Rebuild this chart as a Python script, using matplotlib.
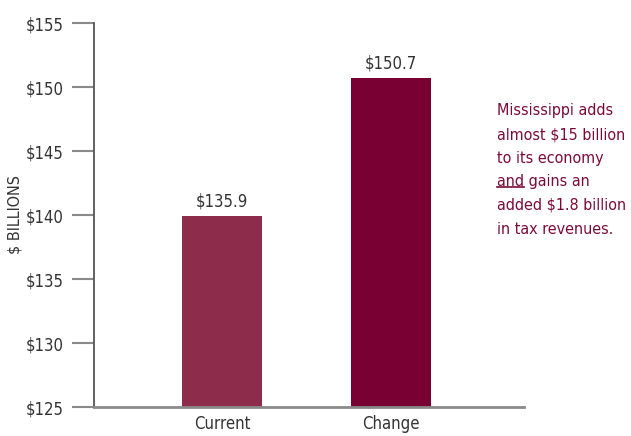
import matplotlib
matplotlib.use("Agg")
import matplotlib.pyplot as plt
from matplotlib.lines import Line2D

categories = ["Current", "Change"]
bar_heights = [139.9, 150.7]
bar_labels = ["$135.9", "$150.7"]
bar_colors = ["#8e2d4b", "#780032"]
yticks = [125, 130, 135, 140, 145, 150, 155]
ytick_labels = ["$125", "$130", "$135", "$140", "$145", "$150", "$155"]
note_lines = ["Mississippi adds", "almost $15 billion", "to its economy",
              "and gains an", "added $1.8 billion", "in tax revenues."]

FONT = dict(family="DejaVu Sans", stretch="condensed")
plt.rcParams['font.family'] = 'DejaVu Sans'

fig = plt.figure(figsize=(6.31, 4.36), dpi=100)
ax = fig.add_axes([94/631, 1-407/436, 430/631, 384/436])

x = list(range(len(categories)))
ax.bar(x, [h - 125 for h in bar_heights], bottom=125, width=0.475,
       color=bar_colors, zorder=2)
for xi, h, lab in zip(x, bar_heights, bar_labels):
    ax.text(xi, h + 0.45, lab, ha="center", va="bottom", fontsize=12,
            color="#333333", **FONT)

ax.set_xlim(-0.76, 1.792)
ax.set_ylim(125, 155)
ax.set_yticks(yticks)
ax.set_yticklabels(ytick_labels, fontsize=12, color="#333333", **FONT)
ax.set_xticks(x)
ax.set_xticklabels(categories, fontsize=12, color="#333333", **FONT)
ax.tick_params(axis="y", length=16, width=1.5, color="#8a8a8a", pad=6)
ax.tick_params(axis="x", length=0, pad=6)
for s in ["top", "right"]:
    ax.spines[s].set_visible(False)
ax.spines["left"].set_color("#555555")
ax.spines["left"].set_linewidth(1.3)
ax.spines["bottom"].set_color("#8a8a8a")
ax.spines["bottom"].set_linewidth(2)

fig.text(15/631, 1-215/436, "$ BILLIONS", rotation=90, ha="center", va="center",
         fontsize=11.5, color="#333333", **FONT)

note_color = "#7a0a3a"
x0 = 497/631
y_start = 1 - 111/436
dy = 23.6/436
texts = []
for i, line in enumerate(note_lines):
    t = fig.text(x0, y_start - i*dy, line, ha="left", va="center",
                 fontsize=11.5, color=note_color, **FONT)
    texts.append(t)

fig.canvas.draw()
r = fig.canvas.get_renderer()
# underline "and" in line 4
full = texts[3]
bb = full.get_window_extent(r)
tmp = fig.text(x0, 0, "and", fontsize=11.5, **FONT)
wb = tmp.get_window_extent(r)
tmp.remove()
uy = (bb.y0 + 2) / fig.bbox.height
fig.add_artist(Line2D([bb.x0/fig.bbox.width, (bb.x0 + wb.width)/fig.bbox.width],
                      [uy, uy], transform=fig.transFigure, color=note_color, lw=1.2))

fig.savefig("out.png", dpi=100)
